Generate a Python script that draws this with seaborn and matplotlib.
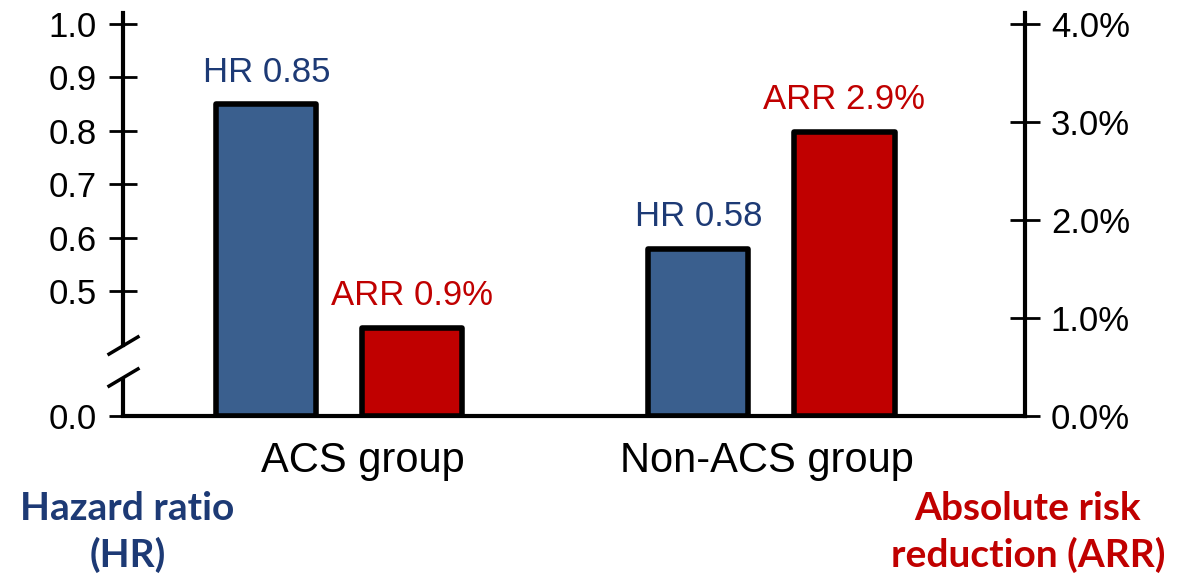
import numpy as np
import pandas as pd
import matplotlib
matplotlib.use("Agg")
import matplotlib.pyplot as plt
import seaborn as sns

# ---- data -------------------------------------------------------------
groups = ["ACS group", "Non-ACS group"]
measures = ["HR", "ARR"]
hazard_ratio = [0.85, 0.58]          # left axis
arr_percent = [0.9, 2.9]             # right axis, %
hr_ticks = [0.0, 0.5, 0.6, 0.7, 0.8, 0.9, 1.0]
arr_ticks = [0.0, 1.0, 2.0, 3.0, 4.0]

# ---- style ------------------------------------------------------------
NAVY = "#1D3A75"
BAR_BLUE = "#3A5F8E"
RED = "#C00000"

sns.set_style("white")
plt.rcParams["font.family"] = ["Liberation Sans", "DejaVu Sans"]
BOLD_FAMILY = ["Lato", "DejaVu Sans"]

hr_df = pd.DataFrame({"group": groups, "measure": "HR", "value": hazard_ratio})
arr_df = pd.DataFrame({"group": groups, "measure": "ARR", "value": arr_percent})

# Broken HR axis: the stretch 0-0.4 is squeezed to a third of its height
BREAK_HI = 0.4
BREAK_LO = 0.22
SQUEEZE = 3.0


def hr_fwd(h):
    h = np.asarray(h, dtype=float)
    return np.where(h < BREAK_HI, h / SQUEEZE, h - BREAK_HI + BREAK_HI / SQUEEZE)


def hr_inv(y):
    y = np.asarray(y, dtype=float)
    knee = BREAK_HI / SQUEEZE
    return np.where(y < knee, y * SQUEEZE, y + BREAK_HI - knee)


fig = plt.figure(figsize=(11.83, 5.79), dpi=100)
ax = fig.add_axes([0.104, 0.2815, 0.7625, 0.696])
ax2 = ax.twinx()

# HR bars sit in the left slot of each group, ARR bars in the right slot
bar_kw = dict(x="group", y="value", hue="measure", hue_order=measures,
              order=groups, palette={"HR": BAR_BLUE, "ARR": RED},
              dodge=True, width=0.676, gap=0.315, saturation=1,
              edgecolor="black", linewidth=4, joinstyle="round",
              errorbar=None, legend=False)
sns.barplot(data=hr_df, ax=ax, **bar_kw)
sns.barplot(data=arr_df, ax=ax2, **bar_kw)

ax.set_yscale("function", functions=(hr_fwd, hr_inv))
ax.set_ylim(0, 1.0206)
ax2.set_ylim(0, 4.112)
ax.set_xlim(-0.501, 1.587)

# ---- value labels above the bars ---------------------------------------
for c in [c for c in ax.containers if len(c)]:
    ax.bar_label(c, labels=[f"HR {v:.2f}" for v in hazard_ratio],
                 padding=11.3, color=NAVY, fontsize=25)
for c in [c for c in ax2.containers if len(c)]:
    ax2.bar_label(c, labels=[f"ARR {v:.1f}%" for v in arr_percent],
                  padding=11.3, color=RED, fontsize=25)

# ---- axes, spines, ticks -----------------------------------------------
ax.set_yticks(hr_ticks, [f"{t:.1f}" for t in hr_ticks])
ax2.set_yticks(arr_ticks, [f"{t:.1f}%" for t in arr_ticks])
ax.tick_params(axis="y", direction="inout", length=20, width=2, pad=9,
               labelsize=25, colors="black")
ax2.tick_params(axis="y", direction="inout", length=21, width=2, pad=8,
                labelsize=25, colors="black")
ax.tick_params(axis="x", length=0, labelbottom=False)
ax.set_xlabel("")
ax2.set_xlabel("")

for side in ("top", "right"):
    ax.spines[side].set_visible(False)
for side in ("top", "left", "bottom"):
    ax2.spines[side].set_visible(False)
for sp in (ax.spines["left"], ax.spines["bottom"], ax2.spines["right"]):
    sp.set_linewidth(3)
    sp.set_color("black")

# left spine with a break between BREAK_LO and BREAK_HI
ax.spines["left"].set_bounds(BREAK_HI, 1.0206)
ytrans = ax.get_yaxis_transform()
ax.plot([0, 0], [0, BREAK_LO], transform=ytrans, color="black", lw=3,
        solid_capstyle="butt", clip_on=False, zorder=3)
ax.plot([0, 0], [BREAK_HI, BREAK_LO], transform=ytrans, linestyle="none",
        marker=[(-16, -9.5), (16, 9.5)], markersize=23, markeredgewidth=2.5,
        markeredgecolor="black", markerfacecolor="none", clip_on=False,
        zorder=3)

# category names under each group
label_nudge = [16.5, -3.6]
xtrans = ax.get_xaxis_transform()
for i, (name, dx) in enumerate(zip(groups, label_nudge)):
    ax.annotate(name, xy=(i, 0), xycoords=xtrans, xytext=(dx, -18),
                textcoords="offset points", ha="center", va="top",
                fontsize=30, color="black")

# axis titles under each vertical axis
ax.set_ylabel("Hazard ratio\n(HR)", rotation=0, ha="center", va="top",
              fontsize=28, fontweight="bold", color=NAVY,
              family=BOLD_FAMILY, linespacing=1.38)
ax.yaxis.set_label_coords(0.005, -0.185)
ax2.set_ylabel("Absolute risk\nreduction (ARR)", rotation=0, ha="center",
               va="top", fontsize=28, fontweight="bold", color=RED,
               family=BOLD_FAMILY, linespacing=1.38)
ax2.yaxis.set_label_coords(1.003, -0.185)

fig.savefig("out.png", dpi=100)
